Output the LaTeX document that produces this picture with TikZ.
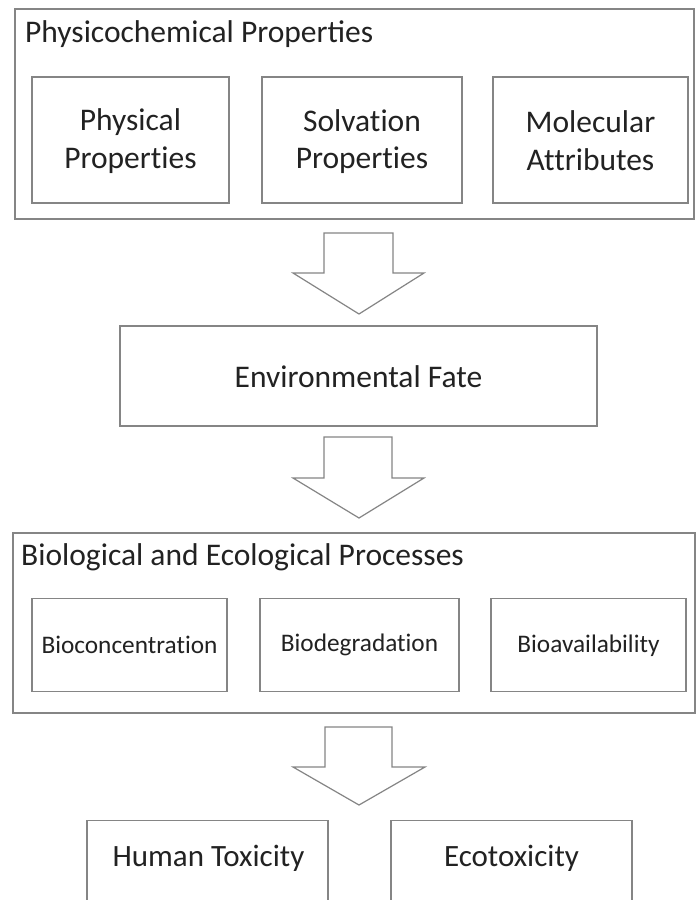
\documentclass[tikz,border=0pt]{standalone}
\usepackage{fontspec}
\setmainfont{Carlito}[Ligatures=NoCommon]
\newfontfamily\titlefont{Carlito}
\definecolor{edgegray}{HTML}{858585}
\definecolor{inkgray}{HTML}{222222}
\begin{document}
\begin{tikzpicture}[x=1pt,y=-1pt,
  panel/.style={draw=edgegray, line width=1.4pt, inner sep=0pt},
  box/.style={draw=edgegray, line width=1.4pt, inner sep=0pt},
  txt/.style={anchor=base, inner sep=0pt, text=inkgray},
  heading/.style={anchor=base west, inner sep=0pt, text=inkgray, font=\titlefont\fontsize{31.5}{36}\selectfont},
  bigtext/.style={txt, font=\fontsize{31.5}{38}\selectfont},
  smalltext/.style={txt, font=\fontsize{25.3}{30}\selectfont},
  bottomtext/.style={txt, font=\fontsize{31}{36}\selectfont},
  blockarrow/.style={draw=edgegray, line width=1.2pt, fill=white, line join=miter}]
\clip (0,0) rectangle (696,900);
\fill[white] (0,0) rectangle (696,900);

% Physicochemical properties group
\node[panel, minimum width=679pt, minimum height=210pt] (physchem) at (354.5,114) {};
\node[heading] (physchemtitle) at (25,42) {Physicochemical Properties};
\node[box, minimum width=197pt, minimum height=126pt] (physical) at (130.5,140) {};
\node[bigtext] (physicalA) at (130.5,130) {Physical};
\node[bigtext] (physicalB) at (130.5,168) {Properties};
\node[box, minimum width=200pt, minimum height=126pt] (solvation) at (362,140) {};
\node[bigtext] (solvationA) at (362,131) {Solvation};
\node[bigtext] (solvationB) at (362,168.5) {Properties};
\node[box, minimum width=195pt, minimum height=126pt] (molecular) at (590.5,140) {};
\node[bigtext] (molecularA) at (590.5,132) {Molecular};
\node[bigtext] (molecularB) at (590.5,170) {Attributes};

% arrow to environmental fate
\coordinate (tipA) at (359,314);
\draw[blockarrow] (324,233) -- (393,233) -- (393,273) -- (424,273) -- (tipA) -- (293,273) -- (324,273) -- cycle;

\node[box, minimum width=477pt, minimum height=100pt] (fate) at (358.5,376) {};
\node[bigtext] (fatetext) at (358.5,387) {Environmental Fate};

% arrow to biological processes
\coordinate (tipB) at (359,518);
\draw[blockarrow] (324,437) -- (392,437) -- (392,478) -- (424,478) -- (tipB) -- (293,478) -- (324,478) -- cycle;

% Biological and ecological processes group
\node[panel, minimum width=682pt, minimum height=180pt] (bioeco) at (354,623) {};
\node[heading] (bioecotitle) at (21,565) {Biological and Ecological Processes};
\node[box, minimum width=195pt, minimum height=93pt] (bioconc) at (129.5,645) {};
\node[smalltext] (bioconctext) at (129.5,653) {Bioconcentration};
\node[box, minimum width=199pt, minimum height=93pt] (biodeg) at (359.5,645) {};
\node[smalltext] (biodegtext) at (359.5,651.5) {Biodegradation};
\node[box, minimum width=195pt, minimum height=93pt] (bioavail) at (588.5,645) {};
\node[smalltext] (bioavailtext) at (588.5,652.5) {Bioavailability};

% arrow to toxicity endpoints
\coordinate (tipC) at (359,805);
\draw[blockarrow] (325,727) -- (392,727) -- (392,767) -- (425,767) -- (tipC) -- (293,767) -- (325,767) -- cycle;

% toxicity endpoints (boxes run past the lower edge)
\node[box, anchor=north, minimum width=241pt, minimum height=160pt] (human) at (207.5,819.5) {};
\node[bottomtext] (humantext) at (208.5,866) {Human Toxicity};
\node[box, anchor=north, minimum width=241pt, minimum height=160pt] (eco) at (511.5,819.5) {};
\node[bottomtext] (ecotext) at (511.5,866) {Ecotoxicity};
\end{tikzpicture}
\end{document}
